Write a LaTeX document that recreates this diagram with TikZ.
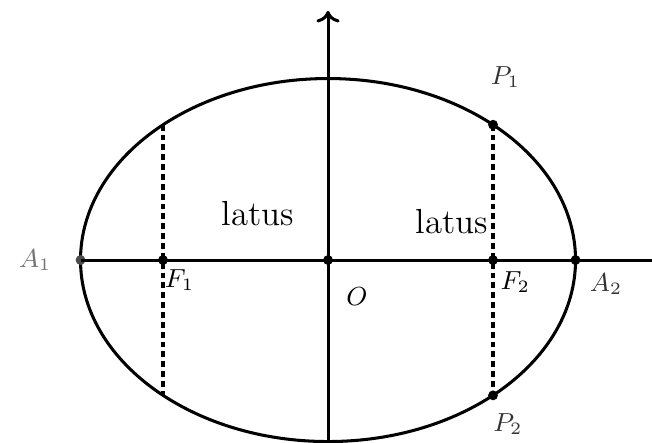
\documentclass[tikz,border=0pt]{standalone}
\usepackage{amsmath}
\usepackage{tikz}
\usetikzlibrary{arrows.meta, positioning}

\begin{document}
\begin{tikzpicture}[
    curve/.style={line width=1.05pt},
    axis/.style={line width=1.05pt},
    latusline/.style={line width=1.1pt, dash pattern=on 2pt off 1.4pt},
    dot/.style={circle, fill, inner sep=0pt, minimum size=3.4pt},
    lbl/.style={font=\small, inner sep=1pt},
    word/.style={font=\large, inner sep=1pt},
]
\useasboundingbox (-3.976,-2.206) rectangle (3.927,3.152);

\draw[curve] (0,0) ellipse (3 and 2.2);

\coordinate (ytop) at (0,3.02);
\coordinate (ybot) at (0,-2.206);
\coordinate (xend) at (3.927,0);
\coordinate (L1top) at (-2,1.64);
\coordinate (L1bot) at (-2,-1.64);

\node[dot] (O) at (0,0) {};
\node[dot] (F1) at (-2,0) {};
\node[dot] (F2) at (2,0) {};
\node[dot, fill=black!70] (A1) at (-3,0) {};
\node[dot] (A2) at (3,0) {};
\node[dot] (P1) at (2,1.64) {};
\node[dot] (P2) at (2,-1.64) {};

\draw[axis] (A1.center)--(xend);
\draw[axis, -{To[length=4pt, width=8pt]}] (ybot)--(ytop);
\draw[latusline] (L1top)--(L1bot);
\draw[latusline] (P1.center)--(P2.center);

\node[lbl, text=black!55] at (-3.55,0) {$A_1$};
\node[lbl] at (-1.80,-0.24) {$F_1$};
\node[lbl] at (0.35,-0.44) {$O$};
\node[lbl] at (2.27,-0.27) {$F_2$};
\node[lbl, text=black!80] at (3.37,-0.29) {$A_2$};
\node[lbl, text=black!80] at (2.15,2.22) {$P_1$};
\node[lbl, text=black!80] at (2.18,-1.99) {$P_2$};
\node[word] at (-0.85,0.56) {latus};
\node[word] at (1.50,0.47) {latus};
\end{tikzpicture}
\end{document}
